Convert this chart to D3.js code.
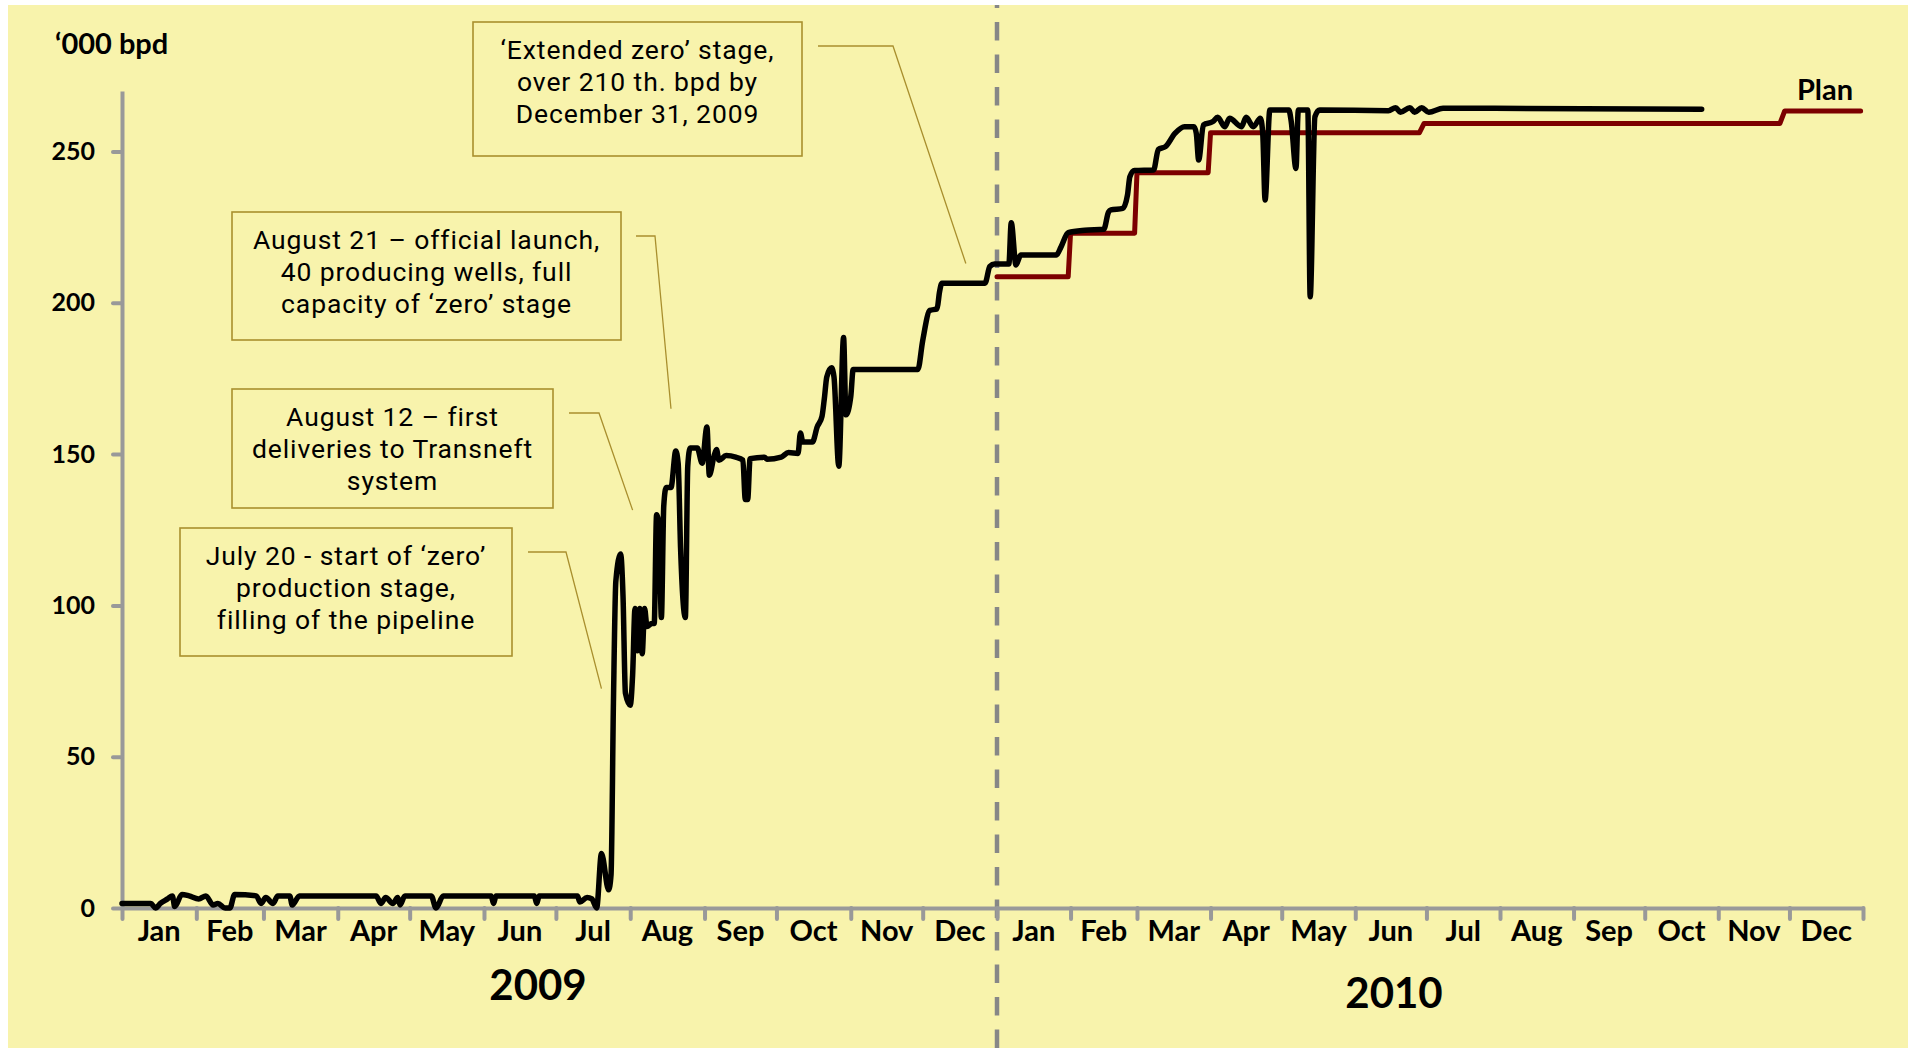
<!DOCTYPE html>
<html>
<head>
<meta charset="utf-8">
<script src="https://cdn.jsdelivr.net/npm/d3@7"></script>
<style>
  html, body { margin: 0; padding: 0; background: #fff; }
  svg { display: block; }
</style>
</head>
<body>
<script>
// ---- data ----
const yTicks = [0, 50, 100, 150, 200, 250];
const monthLabels = ["Jan", "Feb", "Mar", "Apr", "May", "Jun", "Jul", "Aug", "Sep", "Oct", "Nov", "Dec"];
const yearLabels = ["2009", "2010"];

// actual production, '000 bpd
const actual2009 = [
  ["2009-01-01", 1.5], ["2009-01-13", 1.5], ["2009-01-15", 0], ["2009-01-17", 1.5], ["2009-01-20", 3],
  ["2009-01-22", 4], ["2009-01-23", 0.5], ["2009-01-26", 4.5], ["2009-01-29", 4], ["2009-02-02", 3],
  ["2009-02-05", 4], ["2009-02-08", 1], ["2009-02-10", 1.5], ["2009-02-13", 0], ["2009-02-15", 0],
  ["2009-02-17", 4.5], ["2009-02-26", 4], ["2009-02-28", 1.5], ["2009-03-02", 3.5], ["2009-03-05", 1.5],
  ["2009-03-07", 4], ["2009-03-12", 4], ["2009-03-13", 1], ["2009-03-16", 4], ["2009-04-17", 4],
  ["2009-04-19", 1.5], ["2009-04-21", 3.5], ["2009-04-24", 1.5], ["2009-04-26", 3.5], ["2009-04-27", 1],
  ["2009-04-29", 4], ["2009-05-10", 4], ["2009-05-12", 0], ["2009-05-15", 4], ["2009-06-04", 4],
  ["2009-06-05", 1.5], ["2009-06-06", 4], ["2009-06-22", 4], ["2009-06-23", 1.5], ["2009-06-24", 4],
  ["2009-07-10", 4], ["2009-07-11", 2], ["2009-07-14", 3.5], ["2009-07-16", 3], ["2009-07-18", 0],
  ["2009-07-20", 18], ["2009-07-23", 6], ["2009-07-24", 11], ["2009-07-25", 68], ["2009-07-26", 108],
  ["2009-07-28", 117], ["2009-07-29", 103], ["2009-07-30", 71], ["2009-08-01", 67], ["2009-08-02", 77],
  ["2009-08-03", 99], ["2009-08-04", 85], ["2009-08-05", 99], ["2009-08-06", 84], ["2009-08-07", 99],
  ["2009-08-08", 93], ["2009-08-10", 94], ["2009-08-11", 94], ["2009-08-12", 130], ["2009-08-13", 126],
  ["2009-08-14", 96], ["2009-08-15", 133], ["2009-08-16", 139], ["2009-08-18", 139], ["2009-08-20", 151],
  ["2009-08-21", 147], ["2009-08-22", 119], ["2009-08-24", 96], ["2009-08-25", 146], ["2009-08-26", 152],
  ["2009-08-29", 152], ["2009-08-31", 147], ["2009-09-02", 159], ["2009-09-03", 143], ["2009-09-05", 149.5],
  ["2009-09-06", 151.5], ["2009-09-07", 148], ["2009-09-10", 149.5], ["2009-09-14", 149], ["2009-09-17", 148],
  ["2009-09-18", 135], ["2009-09-19", 135], ["2009-09-20", 148.5], ["2009-09-26", 149], ["2009-09-27", 148.3],
  ["2009-10-03", 149], ["2009-10-06", 150.5], ["2009-10-10", 150.2], ["2009-10-11", 157], ["2009-10-12", 154],
  ["2009-10-16", 154], ["2009-10-18", 159], ["2009-10-20", 162.5], ["2009-10-21", 168.5], ["2009-10-22", 175.5],
  ["2009-10-24", 178.5], ["2009-10-25", 175.5], ["2009-10-27", 146], ["2009-10-29", 188.5], ["2009-10-30", 163],
  ["2009-11-01", 169], ["2009-11-02", 178], ["2009-11-29", 178], ["2009-12-01", 187.5], ["2009-12-04", 197.5],
  ["2009-12-07", 198], ["2009-12-08", 203.5], ["2009-12-09", 206.5], ["2009-12-27", 206.5], ["2009-12-29", 212],
  ["2009-12-31", 212.8]
];

const actual2010 = [
  ["2010-01-06", 212.8], ["2010-01-07", 226.5], ["2010-01-09", 212.5], ["2010-01-11", 215.8], ["2010-01-26", 215.8],
  ["2010-01-28", 218.5], ["2010-01-31", 223.2], ["2010-02-07", 224], ["2010-02-15", 224.3], ["2010-02-17", 230],
  ["2010-02-18", 230.7], ["2010-02-23", 231.2], ["2010-02-25", 235.6], ["2010-02-26", 241.7], ["2010-02-28", 243.7],
  ["2010-03-08", 243.9], ["2010-03-10", 250.7], ["2010-03-13", 251.6], ["2010-03-17", 256], ["2010-03-21", 258.2],
  ["2010-03-25", 258.2], ["2010-03-26", 256], ["2010-03-27", 247.2], ["2010-03-29", 258.8], ["2010-04-02", 259.9],
  ["2010-04-04", 261.3], ["2010-04-07", 258.2], ["2010-04-09", 261], ["2010-04-14", 258.2], ["2010-04-16", 261.3],
  ["2010-04-19", 258.2], ["2010-04-22", 261], ["2010-04-23", 256], ["2010-04-24", 234], ["2010-04-26", 263.7],
  ["2010-05-04", 263.7], ["2010-05-05", 260], ["2010-05-07", 244.4], ["2010-05-08", 263.7], ["2010-05-12", 263.7],
  ["2010-05-13", 202], ["2010-05-15", 261.5], ["2010-05-17", 263.7], ["2010-06-15", 263.5], ["2010-06-18", 264.5],
  ["2010-06-20", 263], ["2010-06-24", 264.5], ["2010-06-26", 263], ["2010-06-29", 264.5], ["2010-07-02", 263],
  ["2010-07-08", 264.3], ["2010-10-25", 264]
];

// plan, '000 bpd
const plan2010 = [
  ["2010-01-01", 208.6], ["2010-01-31", 208.6], ["2010-02-01", 223], ["2010-02-28", 223],
  ["2010-03-01", 243], ["2010-03-31", 243], ["2010-04-01", 256.2], ["2010-06-28", 256.2],
  ["2010-06-30", 259.3], ["2010-11-27", 259.3], ["2010-11-29", 263.4], ["2010-12-31", 263.4]
];

const noteTexts = [
  ["\u2018Extended zero\u2019 stage,", "over 210 th. bpd by", "December 31, 2009"],
  ["August 21 \u2013 official launch,", "40 producing wells, full", "capacity of \u2018zero\u2019 stage"],
  ["August 12 \u2013 first", "deliveries to Transneft", "system"],
  ["July 20 - start of \u2018zero\u2019", "production stage,", "filling of the pipeline"]
];
// point each leader line ends at
const noteTargets = [["2009-12-19", 213], ["2009-08-18", 165], ["2009-08-02", 131.5], ["2009-07-20", 72.5]];

// ---- layout ----
const W = 1908, H = 1048;
const bg = "#f8f3ac", axisGrey = "#999999", gold = "#a98f2e";
const font = "Lato, 'Noto Sans', sans-serif";

const noteBoxes = [
  { x: 473, y: 22, w: 329, h: 134, elbow: [[818, 46], [893, 46]] },
  { x: 232, y: 212, w: 389, h: 128, elbow: [[636, 236], [655, 236]] },
  { x: 232, y: 389, w: 321, h: 119, elbow: [[569, 413], [599, 413]] },
  { x: 180, y: 528, w: 332, h: 128, elbow: [[528, 552], [566, 552]] }
];

const parse = d3.timeParse("%Y-%m-%d");

const x = d3.scaleTime()
    .domain([parse("2009-01-01"), parse("2010-01-01"), parse("2011-01-01")])
    .range([122, 997, 1863]);

const y = d3.scaleLinear()
    .domain([0, 270])
    .range([908, 91]);

const svg = d3.select("body").append("svg")
    .attr("width", W)
    .attr("height", H);

svg.append("rect")
    .attr("x", 8).attr("y", 5)
    .attr("width", W - 8).attr("height", H - 5)
    .attr("fill", bg);

// annotations
noteBoxes.forEach((b, i) => {
  svg.append("rect")
      .attr("x", b.x).attr("y", b.y)
      .attr("width", b.w).attr("height", b.h)
      .attr("fill", "none")
      .attr("stroke", gold)
      .attr("stroke-width", 1.6);

  const t = noteTargets[i];
  const pts = b.elbow.concat([[x(parse(t[0])), y(t[1])]]);
  svg.append("path")
      .attr("d", d3.line()(pts))
      .attr("fill", "none")
      .attr("stroke", gold)
      .attr("stroke-width", 1.3);

  svg.append("g").selectAll("text")
      .data(noteTexts[i])
      .join("text")
      .attr("x", b.x + b.w / 2)
      .attr("y", (d, j) => b.y + 28 + j * 31.7)
      .attr("dy", "0.35em")
      .attr("text-anchor", "middle")
      .style("font-family", "Roboto, sans-serif")
      .style("font-size", "26.5px")
      .style("letter-spacing", "0.9px")
      .attr("fill", "#000")
      .text(d => d);
});

// dashed year divider
svg.append("line")
    .attr("x1", x(parse("2010-01-01"))).attr("x2", x(parse("2010-01-01")))
    .attr("y1", 5).attr("y2", H)
    .attr("stroke", "#878787")
    .attr("stroke-width", 4.5)
    .attr("stroke-dasharray", "18.5 14")
    .attr("stroke-dashoffset", 15.5);

// y axis
const yAxis = svg.append("g")
    .attr("transform", `translate(${x.range()[0]},0)`)
    .call(d3.axisLeft(y).tickValues(yTicks).tickSize(9).tickPadding(18).tickSizeOuter(0));

// x axis, ticks at month starts
const months = d3.timeMonth.range(parse("2009-01-01"), parse("2011-01-02"));
const xAxis = svg.append("g")
    .attr("transform", `translate(0,${y(0)})`)
    .call(d3.axisBottom(x).tickValues(months).tickSize(11).tickSizeOuter(0).tickFormat(""));

[yAxis, xAxis].forEach(g => {
  g.select(".domain").attr("stroke", axisGrey).attr("stroke-width", 4);
  g.selectAll(".tick line").attr("stroke", axisGrey).attr("stroke-width", 4).attr("stroke-linecap", "round");
});
yAxis.selectAll(".tick text")
    .style("font-family", font)
    .style("font-size", "25px")
    .style("font-weight", "bold")
    .attr("fill", "#000");

// month labels centred in each month
svg.append("g").selectAll("text")
    .data(months.slice(0, 24))
    .join("text")
    .attr("x", d => (x(d) + x(d3.timeMonth.offset(d, 1))) / 2)
    .attr("y", 941)
    .attr("text-anchor", "middle")
    .style("font-family", font)
    .style("font-size", "29px")
    .style("font-weight", "bold")
    .text(d => monthLabels[d.getMonth()]);

// year labels
const yearX = [538, 1394], yearY = [1000, 1008];
svg.append("g").selectAll("text")
    .data(yearLabels)
    .join("text")
    .attr("x", (d, i) => yearX[i])
    .attr("y", (d, i) => yearY[i])
    .attr("text-anchor", "middle")
    .style("font-family", font)
    .style("font-size", "42px")
    .style("font-weight", "bold")
    .text(d => d);

svg.append("text")
    .attr("x", 55).attr("y", 54)
    .style("font-family", font)
    .style("font-size", "29px")
    .style("font-weight", "bold")
    .text("\u2018000 bpd");

// lines
const line = d3.line()
    .x(d => x(parse(d[0])))
    .y(d => y(d[1]));

svg.append("path")
    .attr("d", line(plan2010))
    .attr("fill", "none")
    .attr("stroke", "#7c0000")
    .attr("stroke-width", 5)
    .attr("stroke-linejoin", "round")
    .attr("stroke-linecap", "round");

svg.append("path")
    .attr("d", line.curve(d3.curveMonotoneX)(actual2009.concat(actual2010)))
    .attr("fill", "none")
    .attr("stroke", "#000")
    .attr("stroke-width", 5.5)
    .attr("stroke-linejoin", "round")
    .attr("stroke-linecap", "round");

svg.append("text")
    .attr("x", 1825).attr("y", 100)
    .attr("text-anchor", "middle")
    .style("font-family", font)
    .style("font-size", "29px")
    .style("font-weight", "bold")
    .text("Plan");
</script>
</body>
</html>
